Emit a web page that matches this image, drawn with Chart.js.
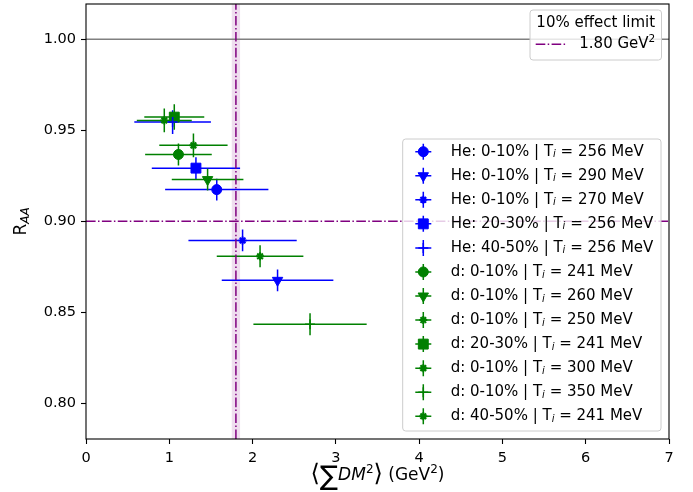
<!DOCTYPE html>
<html>
<head>
<meta charset="utf-8">
<script src="https://cdn.jsdelivr.net/npm/chart.js@4.4.1/dist/chart.umd.min.js"></script>
<style>
  html, body { margin: 0; padding: 0; background: #fff; }
  canvas { display: block; }
</style>
</head>
<body>
<canvas id="chart" width="693" height="492"></canvas>
<script>
// one entry per point: species, centrality class, initial temperature
const species = ["He", "He", "He", "He", "He", "d", "d", "d", "d", "d", "d", "d"];
const centrality = ["0-10%", "0-10%", "0-10%", "20-30%", "40-50%", "0-10%", "0-10%", "0-10%", "20-30%", "0-10%", "0-10%", "40-50%"];
const tempMeV = [256, 290, 270, 256, 256, 241, 260, 250, 241, 300, 350, 241];

// <sum DM^2> in GeV^2 and R_AA
const dmValues = [1.57, 2.30, 1.88, 1.32, 1.04, 1.11, 1.46, 1.29, 1.06, 2.09, 2.69, 0.94];
const dmErrors = [0.62, 0.67, 0.65, 0.53, 0.46, 0.40, 0.43, 0.41, 0.36, 0.52, 0.68, 0.33];
const raaValues = [0.9174, 0.8676, 0.8895, 0.9292, 0.9545, 0.9367, 0.9229, 0.9417, 0.9572, 0.8808, 0.8435, 0.9554];
const raaErrors = [0.006, 0.006, 0.006, 0.006, 0.0065, 0.006, 0.006, 0.0065, 0.007, 0.006, 0.006, 0.0065];

const xTicks = [0, 1, 2, 3, 4, 5, 6, 7];
const yTicks = [0.80, 0.85, 0.90, 0.95, 1.00];

// reference lines
const limitDM = 1.80;
const limitBand = 0.05;
const limitRAA = 0.90;
const unityRAA = 1.00;

const xMin = 0, xMax = 7;
const yMin = 0.7805, yMax = 1.0193;

const speciesColor = { He: "#0000ff", d: "#008000" };
const markerStyle = ["circle", "triangle", "star", "rect", "cross", "circle", "triangle", "star", "rect", "star", "cross", "star"];
const DASHDOT = [9.6, 2.4, 1.5, 2.4];
const FONT = "'DejaVu Sans', sans-serif";

function markerOpts(style) {
  switch (style) {
    case "circle": return { pointStyle: "circle", radius: 5, rotation: 0, borderWidth: 1 };
    case "triangle": return { pointStyle: "triangle", radius: 6, rotation: 180, borderWidth: 1 };
    case "rect": return { pointStyle: "rect", radius: 7, rotation: 0, borderWidth: 1 };
    case "star": return { pointStyle: "star", radius: 4, rotation: 0, borderWidth: 2 };
    default: return { pointStyle: "cross", radius: 5, rotation: 0, borderWidth: 1.5 };
  }
}

const pointSets = dmValues.map((x, i) => {
  const m = markerOpts(markerStyle[i]);
  const c = speciesColor[species[i]];
  return {
    label: `${species[i]}: ${centrality[i]} | T_i = ${tempMeV[i]} MeV`,
    data: [{ x, y: raaValues[i] }],
    pointStyle: m.pointStyle,
    pointRadius: m.radius,
    pointRotation: m.rotation,
    pointBorderWidth: m.borderWidth,
    backgroundColor: c,
    borderColor: c,
    order: 0
  };
});

const refSets = [
  { type: "line", label: "unity", data: [{ x: xMin, y: unityRAA }, { x: xMax, y: unityRAA }],
    borderColor: "#808080", borderWidth: 1.5, pointRadius: 0, order: 3 },
  { type: "line", label: "raa limit", data: [{ x: xMin, y: limitRAA }, { x: xMax, y: limitRAA }],
    borderColor: "#800080", borderWidth: 1.5, borderDash: DASHDOT, pointRadius: 0, order: 2 },
  { type: "line", label: "dm limit", data: [{ x: limitDM, y: yMin }, { x: limitDM, y: yMax }],
    borderColor: "#800080", borderWidth: 1.5, borderDash: DASHDOT, pointRadius: 0, order: 1 }
];

// draws a run of text pieces [{t, font, dy}] starting at x (or centred)
function richText(ctx, parts, x, y, align) {
  let w = 0;
  parts.forEach(p => { ctx.font = p.font; p.w = ctx.measureText(p.t).width; w += p.w; });
  let cx = align === "center" ? x - w / 2 : x;
  ctx.textAlign = "left";
  ctx.textBaseline = "middle";
  parts.forEach(p => { ctx.font = p.font; ctx.fillText(p.t, cx, y + (p.dy || 0)); cx += p.w; });
}

function roundBox(ctx, x, y, w, h, r) {
  ctx.beginPath();
  ctx.moveTo(x + r, y);
  ctx.arcTo(x + w, y, x + w, y + h, r);
  ctx.arcTo(x + w, y + h, x, y + h, r);
  ctx.arcTo(x, y + h, x, y, r);
  ctx.arcTo(x, y, x + w, y, r);
  ctx.closePath();
  ctx.fillStyle = "rgba(255,255,255,0.8)";
  ctx.fill();
  ctx.strokeStyle = "#cccccc";
  ctx.lineWidth = 1;
  ctx.stroke();
}

const underlay = {
  id: "underlay",
  beforeDatasetsDraw(chart) {
    const { ctx, chartArea: a, scales: { x, y } } = chart;
    ctx.save();
    const l = x.getPixelForValue(limitDM - limitBand);
    const r = x.getPixelForValue(limitDM + limitBand);
    ctx.fillStyle = "rgba(128,0,128,0.13)";
    ctx.fillRect(l, a.top, r - l, a.bottom - a.top);

    ctx.lineWidth = 1.5;
    dmValues.forEach((v, i) => {
      const c = speciesColor[species[i]];
      const px = x.getPixelForValue(v), py = y.getPixelForValue(raaValues[i]);
      ctx.strokeStyle = c;
      ctx.beginPath();
      ctx.moveTo(x.getPixelForValue(v - dmErrors[i]), py);
      ctx.lineTo(x.getPixelForValue(v + dmErrors[i]), py);
      ctx.moveTo(px, y.getPixelForValue(raaValues[i] - raaErrors[i]));
      ctx.lineTo(px, y.getPixelForValue(raaValues[i] + raaErrors[i]));
      ctx.stroke();
    });
    ctx.restore();
  }
};

const overlay = {
  id: "overlay",
  afterDraw(chart) {
    const { ctx, chartArea: a } = chart;
    ctx.save();
    // frame
    ctx.strokeStyle = "#000";
    ctx.lineWidth = 1.1;
    ctx.strokeRect(a.left, a.top, a.right - a.left, a.bottom - a.top);

    ctx.fillStyle = "#000";
    // y title
    ctx.save();
    ctx.translate(22, (a.top + a.bottom) / 2);
    ctx.rotate(-Math.PI / 2);
    richText(ctx, [
      { t: "R", font: `17px ${FONT}` },
      { t: "AA", font: `italic 12px ${FONT}`, dy: 4 }
    ], 0, 0, "center");
    ctx.restore();

    // x title
    richText(ctx, [
      { t: "\u27E8", font: `24px ${FONT}`, dy: -1 },
      { t: "\u2211", font: `27px ${FONT}`, dy: 2 },
      { t: "DM", font: `italic 17px ${FONT}` },
      { t: "2", font: `12px ${FONT}`, dy: -6 },
      { t: "\u27E9", font: `24px ${FONT}`, dy: -1 },
      { t: " (GeV", font: `17px ${FONT}` },
      { t: "2", font: `12px ${FONT}`, dy: -6 },
      { t: ")", font: `17px ${FONT}` }
    ], (a.left + a.right) / 2, 476, "center");

    // legend: 10% effect limit
    const bx = a.right - 139, by = a.top + 6;
    roundBox(ctx, bx, by, 131.5, 50, 3);
    ctx.fillStyle = "#000";
    richText(ctx, [{ t: "10% effect limit", font: `15px ${FONT}` }], bx + 65.75, by + 12.7, "center");
    ctx.strokeStyle = "#800080";
    ctx.lineWidth = 1.5;
    ctx.setLineDash(DASHDOT);
    ctx.beginPath();
    ctx.moveTo(bx + 5.7, by + 34.3);
    ctx.lineTo(bx + 36.7, by + 34.3);
    ctx.stroke();
    ctx.setLineDash([]);
    ctx.fillStyle = "#000";
    richText(ctx, [
      { t: limitDM.toFixed(2) + " GeV", font: `15px ${FONT}` },
      { t: "2", font: `10.5px ${FONT}`, dy: -5 }
    ], bx + 49.3, by + 34.3, "left");

    // legend: data series
    const lx = a.left + 316.7, ly = a.top + 135, rowH = 24.05;
    roundBox(ctx, lx, ly, 258.3, 292, 3);
    pointSets.forEach((ds, i) => {
      const cy = ly + 12.7 + i * rowH, mx = lx + 20.6;
      const c = ds.borderColor;
      ctx.strokeStyle = c;
      ctx.fillStyle = c;
      ctx.lineWidth = 1.5;
      ctx.beginPath();
      ctx.moveTo(mx - 8, cy); ctx.lineTo(mx + 8, cy);
      ctx.moveTo(mx, cy - 8); ctx.lineTo(mx, cy + 8);
      ctx.stroke();
      ctx.lineWidth = ds.pointBorderWidth;
      Chart.helpers.drawPoint(ctx, {
        pointStyle: ds.pointStyle, radius: ds.pointRadius,
        rotation: ds.pointRotation, borderWidth: ds.pointBorderWidth
      }, mx, cy);
      const [head, tail] = ds.label.split("T_i");
      ctx.fillStyle = "#000";
      richText(ctx, [
        { t: head + "T", font: `15px ${FONT}` },
        { t: "i", font: `italic 10px ${FONT}`, dy: 3 },
        { t: tail, font: `15px ${FONT}` }
      ], lx + 48, cy, "left");
    });
    ctx.restore();
  }
};

function noOverflow(s) {
  s.paddingTop = 0; s.paddingBottom = 0; s.paddingLeft = 0; s.paddingRight = 0;
}

new Chart(document.getElementById("chart"), {
  type: "scatter",
  data: { datasets: [...pointSets, ...refSets] },
  options: {
    responsive: false,
    devicePixelRatio: 1,
    animation: false,
    layout: { autoPadding: false, padding: { left: 0, right: 24, top: 4, bottom: 0 } },
    plugins: { legend: { display: false }, tooltip: { enabled: false } },
    scales: {
      x: {
        type: "linear", min: xMin, max: xMax,
        afterBuildTicks: s => { s.ticks = xTicks.map(v => ({ value: v })); },
        afterFit: s => { s.height = 53; noOverflow(s); },
        grid: { drawOnChartArea: false, drawTicks: true, tickLength: 5, tickWidth: 1.1, color: "#000" },
        border: { display: false },
        ticks: { color: "#000", font: { family: FONT, size: 14.5 }, padding: 6, callback: v => String(v) }
      },
      y: {
        type: "linear", min: yMin, max: yMax,
        afterBuildTicks: s => { s.ticks = yTicks.map(v => ({ value: v })); },
        afterFit: s => { s.width = 86; noOverflow(s); },
        grid: { drawOnChartArea: false, drawTicks: true, tickLength: 5, tickWidth: 1.1, color: "#000" },
        border: { display: false },
        ticks: { color: "#000", font: { family: FONT, size: 14.5 }, padding: 5, callback: v => v.toFixed(2) }
      }
    }
  },
  plugins: [underlay, overlay]
});
</script>
</body>
</html>
